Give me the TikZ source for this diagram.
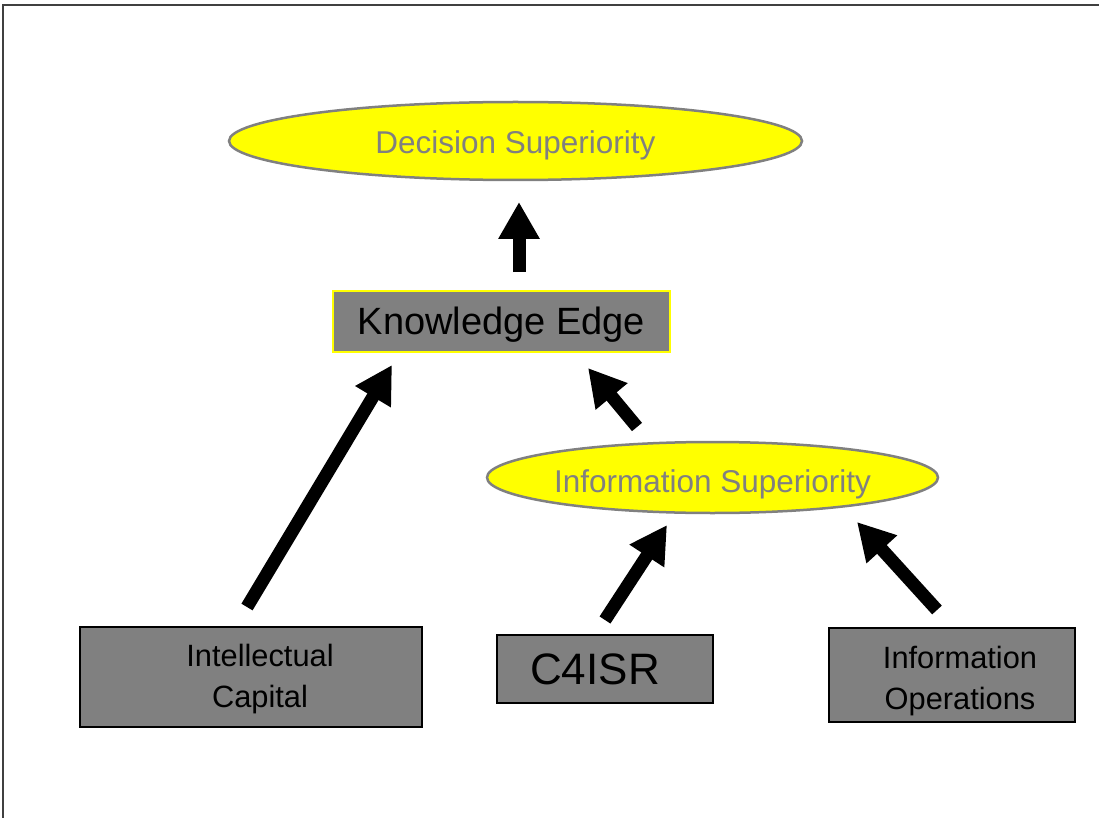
\documentclass[tikz,border=0pt]{standalone}
\usepackage{fontspec}
\setmainfont{Liberation Sans}
\usetikzlibrary{shapes.geometric,arrows.meta}
\definecolor{boxgray}{HTML}{808080}
\definecolor{ellyellow}{HTML}{FFFF00}
\newcommand{\lowstrut}[1]{\rule{0pt}{#1}}
\tikzset{
  goal/.style={ellipse, draw=boxgray, line width=2.5pt, fill=ellyellow, text=boxgray, inner sep=0pt,
    font=\fontsize{31.5}{40}\selectfont},
  greybox/.style={rectangle, draw=black, line width=2.5pt, fill=boxgray, text=black, inner sep=0pt,
    align=center, font=\fontsize{30.8}{41}\selectfont},
  bigarrow/.style={line width=13pt, -{Triangle[length=37pt,width=39pt]}},
}
\begin{document}
\begin{tikzpicture}[x=1pt,y=-1pt]
\useasboundingbox (0,0) rectangle (1099,818);
\fill[white] (0,0) rectangle (1099,818);
% frame
\draw[line width=2pt, black!75] (3,818) -- (3,5) -- (1099,5);

% nodes
\node[goal, minimum width=573pt, minimum height=78pt] (ds) at (515.5,141)
  {\lowstrut{31pt}Decision Superiority};
\node[greybox, draw=ellyellow, minimum width=337pt, minimum height=61pt,
  font=\fontsize{38}{44}\selectfont] (ke) at (501.5,321.5) {\lowstrut{34pt}Knowledge Edge};
\node[goal, minimum width=451pt, minimum height=71pt] (is) at (712.5,477.5)
  {\lowstrut{37pt}Information Superiority};
\node[greybox, minimum width=342pt, minimum height=100pt] (ic) at (251,677)
  {\lowstrut{27pt}\hspace*{18pt}Intellectual\\\hspace*{18pt}Capital};
\node[greybox, minimum width=216pt, minimum height=68pt,
  font=\fontsize{44}{50}\selectfont] (c4) at (605,669) {C4ISR\hspace*{20pt}};
\node[greybox, minimum width=246pt, minimum height=94pt] (io) at (952,675)
  {\lowstrut{35pt}\hspace*{16pt}Information\\\hspace*{16pt}Operations};

% arrow end points (arrows do not touch the boxes)
\coordinate (a1s) at (519,272);
\coordinate (a1e) at (519,202);
\coordinate (a2s) at (247,607);
\coordinate (a2e) at (392,365);
\coordinate (a3s) at (637,427);
\coordinate (a3e) at (588,368);
\coordinate (a4s) at (605,620);
\coordinate (a4e) at (667,525);
\coordinate (a5s) at (937,610);
\coordinate (a5e) at (857,522);

\draw[bigarrow] (a1s) -- (a1e);
\draw[bigarrow] (a2s) -- (a2e);
\draw[bigarrow] (a3s) -- (a3e);
\draw[bigarrow] (a4s) -- (a4e);
\draw[bigarrow] (a5s) -- (a5e);
\end{tikzpicture}
\end{document}
